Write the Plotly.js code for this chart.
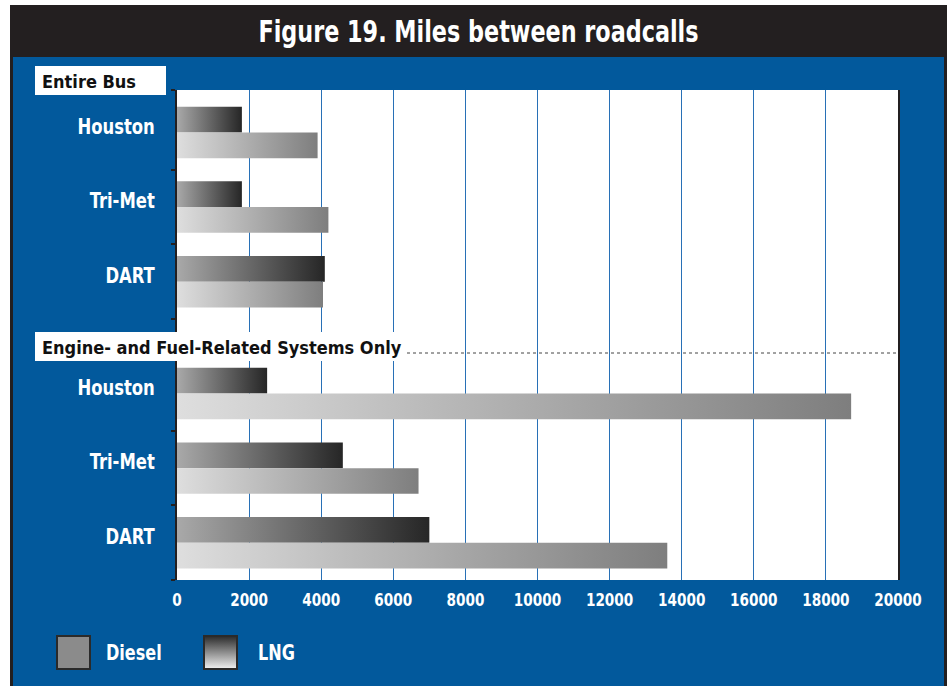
<!DOCTYPE html>
<html>
<head>
<meta charset="utf-8">
<script src="https://cdn.plot.ly/plotly-3.0.1.min.js"></script>
<style>
  html, body { margin: 0; padding: 0; background: #ffffff; }
  #chart { width: 947px; height: 686px; }
</style>
</head>
<body>
<div id="chart"></div>
<script>
// ---- data ----
const categories = ["Houston", "Tri-Met", "DART"];
const sections = ["Entire Bus", "Engine- and Fuel-Related Systems Only"];
const seriesNames = ["LNG", "Diesel"];
const lngEntire = [1800, 1800, 4100];
const dieselEntire = [3900, 4200, 4050];
const lngEngine = [2500, 4600, 7000];
const dieselEngine = [18700, 6700, 13600];
const xTicks = [0, 2000, 4000, 6000, 8000, 10000, 12000, 14000, 16000, 18000, 20000];

// ---- layout helpers ----
const FONT = "'Liberation Sans Narrow', 'DejaVu Sans Condensed', 'Roboto Condensed', 'Open Sans', sans-serif";
const GRID = '#2870b6';
const L = 177, R = 898, T = 90, B = 580;
const px = x => (x - L) / (R - L);
const py = y => (B - y) / (B - T);

// row positions: section gap of 1.5 rows
const rowPos = [];
const rowText = [];
sections.forEach((s, si) => {
  categories.forEach((c, ci) => {
    rowPos.push(si * 3.5 + ci);
    rowText.push(c);
  });
});
const yRange = [6.0, -0.57];
const boundaries = [yRange[1], 0.5, 1.5, 2.5, 4, 5, yRange[0]];

const lngVals = lngEntire.concat(lngEngine);
const dieselVals = dieselEntire.concat(dieselEngine);

const traces = [
  { type: 'bar', orientation: 'h', name: seriesNames[0], x: lngVals, y: rowPos,
    marker: { color: '#666666', line: { width: 0 } }, hoverinfo: 'x+name' },
  { type: 'bar', orientation: 'h', name: seriesNames[1], x: dieselVals, y: rowPos,
    marker: { color: '#aaaaaa', line: { width: 0 } }, hoverinfo: 'x+name' }
];

const labelFont = { family: FONT, size: 18, color: '#111111', weight: 'bold' };
const whiteBold = s => ({ family: FONT, size: s, color: '#ffffff', weight: 'bold' });

const layout = {
  width: 947, height: 686,
  margin: { l: L, r: 947 - R, t: T, b: 686 - B },
  paper_bgcolor: '#ffffff',
  plot_bgcolor: '#ffffff',
  showlegend: false,
  barmode: 'group',
  bargap: 0.31,
  bargroupgap: 0,
  title: {
    text: 'Figure 19. Miles between roadcalls',
    font: whiteBold(31),
    x: 478.5 / 947, xanchor: 'center',
    y: 1 - 31 / 686, yanchor: 'middle', xref: 'container', yref: 'container'
  },
  xaxis: {
    range: [0, 20000],
    tickvals: xTicks,
    ticktext: xTicks.map(String),
    showgrid: true, gridcolor: GRID, gridwidth: 1,
    zeroline: false, showline: false, ticks: '',
    tickfont: whiteBold(17),
    ticklabelstandoff: 8,
    fixedrange: true
  },
  yaxis: {
    range: yRange,
    tickvals: rowPos,
    ticktext: rowText,
    ticks: '',
    ticklabelshift: 6,
    minor: { tickvals: boundaries, ticks: 'outside', ticklen: 4, tickwidth: 2, tickcolor: '#231f20', showgrid: false },
    showgrid: false, zeroline: false,
    showline: true, linecolor: '#231f20', linewidth: 2, mirror: true,
    tickfont: whiteBold(21),
    ticklabelstandoff: 16,
    fixedrange: true
  },
  shapes: [
    { type: 'rect', xref: 'paper', yref: 'paper', layer: 'below',
      x0: px(10), x1: px(947), y0: py(686), y1: py(5), fillcolor: '#231f20', line: { width: 0 } },
    { type: 'rect', xref: 'paper', yref: 'paper', layer: 'below',
      x0: px(13), x1: px(944), y0: py(686), y1: py(57), fillcolor: '#02599c', line: { width: 0 } },
    { type: 'rect', xref: 'paper', yref: 'paper', layer: 'below',
      x0: px(177), x1: px(898), y0: py(580), y1: py(90), fillcolor: '#ffffff', line: { width: 0 } },
    { type: 'line', xref: 'paper', yref: 'paper', layer: 'above',
      x0: px(407), x1: px(897), y0: py(353), y1: py(353), line: { color: '#444444', width: 1, dash: 'dot' } },
    { type: 'rect', xref: 'paper', yref: 'paper', layer: 'above',
      x0: px(35), x1: px(166), y0: py(95), y1: py(66), fillcolor: '#ffffff', line: { width: 0 } },
    { type: 'rect', xref: 'paper', yref: 'paper', layer: 'above',
      x0: px(35), x1: px(407), y0: py(361), y1: py(332), fillcolor: '#ffffff', line: { width: 0 } },
    { type: 'rect', xref: 'paper', yref: 'paper', layer: 'above',
      x0: px(57), x1: px(90), y0: py(669), y1: py(636), fillcolor: '#8b8b8b', line: { color: '#2a2a2a', width: 2 } },
    { type: 'rect', xref: 'paper', yref: 'paper', layer: 'above',
      x0: px(204), x1: px(237), y0: py(669), y1: py(636), fillcolor: '#777777', line: { color: '#2a2a2a', width: 2 } }
  ],
  annotations: [
    { text: sections[0], xref: 'paper', yref: 'paper', x: px(41), y: py(81),
      xanchor: 'left', yanchor: 'middle', borderpad: 0, showarrow: false, font: labelFont },
    { text: sections[1], xref: 'paper', yref: 'paper', x: px(41), y: py(347),
      xanchor: 'left', yanchor: 'middle', borderpad: 0, showarrow: false, font: labelFont },
    { text: seriesNames[1], xref: 'paper', yref: 'paper', x: px(105), y: py(653),
      xanchor: 'left', yanchor: 'middle', borderpad: 0, showarrow: false, font: whiteBold(21) },
    { text: seriesNames[0], xref: 'paper', yref: 'paper', x: px(257), y: py(653),
      xanchor: 'left', yanchor: 'middle', borderpad: 0, showarrow: false, font: whiteBold(21) }
  ]
};

const gd = document.getElementById('chart');
Plotly.newPlot(gd, traces, layout, { displayModeBar: false, staticPlot: true }).then(() => {
  const NS = 'http://www.w3.org/2000/svg';
  const svg = gd.querySelector('svg.main-svg');
  let defs = svg.querySelector('defs');
  if (!defs) { defs = document.createElementNS(NS, 'defs'); svg.insertBefore(defs, svg.firstChild); }
  function grad(id, vertical, stops) {
    const g = document.createElementNS(NS, 'linearGradient');
    g.setAttribute('id', id);
    g.setAttribute('x1', '0'); g.setAttribute('y1', '0');
    g.setAttribute('x2', vertical ? '0' : '1'); g.setAttribute('y2', vertical ? '1' : '0');
    stops.forEach(([o, c]) => {
      const s = document.createElementNS(NS, 'stop');
      s.setAttribute('offset', o); s.setAttribute('stop-color', c);
      g.appendChild(s);
    });
    defs.appendChild(g);
  }
  grad('gLNG', false, [['0', '#a9a9a9'], ['1', '#262626']]);
  grad('gDiesel', false, [['0', '#dedede'], ['1', '#7e7e7e']]);
  grad('gLNGleg', true, [['0', '#2a2a2a'], ['1', '#f2f2f2']]);
  const barTraces = gd.querySelectorAll('.barlayer .trace');
  const fills = ['url(#gLNG)', 'url(#gDiesel)'];
  barTraces.forEach((t, i) => {
    t.querySelectorAll('.point path').forEach(p => { p.style.fill = fills[i]; });
  });
  const legShape = gd.querySelector('.layer-above .shapelayer path[data-index="7"]');
  if (legShape) legShape.style.fill = 'url(#gLNGleg)';

  // condense text horizontally to mimic the narrow typeface of the original
  function squeeze(sel, f) {
    gd.querySelectorAll(sel).forEach(t => {
      const w = t.getComputedTextLength();
      if (w > 0) {
        t.setAttribute('textLength', (w * f).toFixed(1));
        t.setAttribute('lengthAdjust', 'spacingAndGlyphs');
      }
    });
  }
  squeeze('.gtitle', 0.80);
  squeeze('.ytick text', 0.87);
  squeeze('.xtick text', 0.89);
  const ann = gd.querySelectorAll('.annotation-text');
  ann.forEach((t, i) => {
    if (i >= 2) {
      const w = t.getComputedTextLength();
      const f = 0.85;
      t.setAttribute('textLength', (w * f).toFixed(1));
      t.setAttribute('lengthAdjust', 'spacingAndGlyphs');
      const x = parseFloat(t.getAttribute('x') || '0');
      t.setAttribute('x', (x - (w - w * f) / 2).toFixed(1));
    }
  });
});
</script>
</body>
</html>
